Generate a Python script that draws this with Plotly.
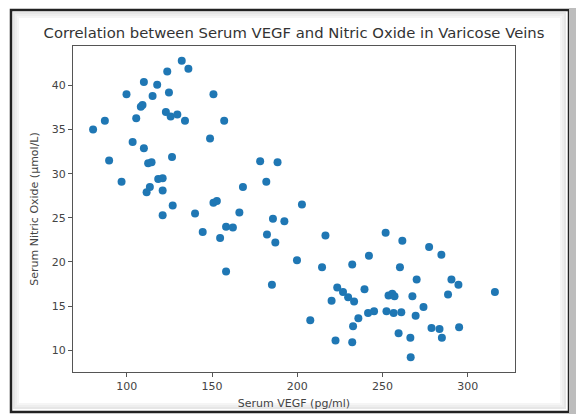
import plotly.graph_objects as go

vegf = [132.2, 136.1, 123.7, 110.0, 117.8, 99.8, 124.7, 150.8, 115.1, 109.2,
        108.2, 105.5, 122.9, 125.7, 129.6, 134.1, 87.1, 80.2, 148.8, 103.4,
        110.0, 89.6, 126.5, 112.5, 114.5, 96.9, 118.4, 121.0, 113.5, 111.6,
        121.0, 126.9, 121.0, 140.0, 150.8, 152.8, 157.1, 178.2, 188.4, 168.1,
        181.8, 202.7, 166.0, 185.7, 192.4, 144.5, 154.7, 158.2, 162.2, 158.2,
        182.2, 187.1, 216.5, 199.8, 214.5, 232.2, 242.0, 251.8, 261.6, 277.3,
        284.5, 260.2, 270.0, 290.4, 294.5, 288.4, 315.9, 185.1, 223.4, 226.8,
        229.8, 233.3, 220.1, 239.4, 253.5, 255.7, 257.0, 267.5, 274.0, 207.6,
        235.8, 232.7, 241.5, 245.0, 252.3, 256.5, 261.0, 269.4, 259.4, 266.3,
        284.8, 222.4, 232.2, 278.7, 283.4, 294.9, 266.5]
nitric_oxide = [42.8, 41.9, 41.6, 40.4, 40.1, 39.0, 39.2, 39.0, 38.8, 37.8,
                37.6, 36.3, 37.0, 36.5, 36.7, 36.0, 36.0, 35.0, 34.0, 33.6,
                32.9, 31.5, 31.9, 31.2, 31.3, 29.1, 29.4, 29.5, 28.5, 27.9,
                28.1, 26.4, 25.3, 25.5, 26.7, 26.9, 36.0, 31.4, 31.3, 28.5,
                29.1, 26.5, 25.6, 24.9, 24.6, 23.4, 22.7, 24.0, 23.9, 18.9,
                23.1, 22.2, 23.0, 20.2, 19.4, 19.7, 20.7, 23.3, 22.4, 21.7,
                20.8, 19.4, 18.0, 18.0, 17.4, 16.3, 16.6, 17.4, 17.1, 16.6,
                16.0, 15.5, 15.6, 16.9, 16.2, 16.4, 16.1, 16.1, 14.9, 13.4,
                13.6, 12.7, 14.2, 14.4, 14.4, 14.2, 14.3, 13.9, 11.9, 11.4,
                11.4, 11.1, 10.9, 12.5, 12.4, 12.6, 9.2]

x_ticks = [100, 150, 200, 250, 300]
y_ticks = [10, 15, 20, 25, 30, 35, 40]

title_text = "Correlation between Serum VEGF and Nitric Oxide in Varicose Veins"
x_label = "Serum VEGF (pg/ml)"
y_label = "Serum Nitric Oxide (μmol/L)"

W, H = 576, 414
L, R, T, B = 73, 61, 46, 42
PW, PH = W - L - R, H - T - B


def px_x(p):
    return (p - L) / PW


def px_y(p):
    return (H - B - p) / PH


def pad(vals, frac=0.05):
    lo, hi = min(vals), max(vals)
    d = (hi - lo) * frac
    return [lo - d, hi + d]


fig = go.Figure()
fig.add_trace(go.Scatter(
    x=vegf, y=nitric_oxide, mode="markers",
    marker=dict(color="#1f77b4", size=8, line=dict(width=0)),
    showlegend=False,
))

axis_common = dict(
    showgrid=False, zeroline=False, showline=True, mirror=True, automargin=False,
    linecolor="#555555", linewidth=1, ticks="outside", ticklen=4,
    tickcolor="#555555", tickfont=dict(family="DejaVu Sans", size=11, color="#444444"),
)

fig.update_layout(
    width=W, height=H,
    margin=dict(l=L, r=R, t=T, b=B, autoexpand=False),
    paper_bgcolor="white", plot_bgcolor="white",
    title=dict(text=title_text, x=0.5, xref="paper", automargin=False,
               y=1 - 33 / H, yref="container", xanchor="center", yanchor="middle",
               font=dict(family="DejaVu Sans", size=14.8, color="#333333")),
    xaxis=dict(range=pad(vegf), tickvals=x_ticks,
               title=dict(text=x_label, standoff=7,
                          font=dict(family="DejaVu Sans", size=11, color="#444444")),
               **axis_common),
    yaxis=dict(range=pad(nitric_oxide), tickvals=y_ticks,
               title=dict(text=y_label, standoff=10,
                          font=dict(family="DejaVu Sans", size=11, color="#444444")),
               **axis_common),
)

# Figure frame (dark border with soft gray shadow)
shapes = []
for i, col in enumerate(["#e6e6e6", "#eeeeee", "#f5f5f5"]):
    off = 3 + 2 * i
    shapes.append(dict(type="rect", xref="paper", yref="paper",
                       x0=px_x(11 + off), x1=px_x(568 - off),
                       y0=px_y(411 - off), y1=px_y(10 + off),
                       line=dict(color=col, width=2), fillcolor="rgba(0,0,0,0)",
                       layer="below"))
shapes.append(dict(type="rect", xref="paper", yref="paper",
                   x0=px_x(11), x1=px_x(569), y0=px_y(412), y1=px_y(10),
                   line=dict(color="#222222", width=2.5), fillcolor="rgba(0,0,0,0)"))
shapes.append(dict(type="rect", xref="paper", yref="paper",
                   x0=px_x(569), x1=px_x(576), y0=px_y(414), y1=px_y(8),
                   line=dict(width=0), fillcolor="#bdbdbd"))
fig.update_layout(shapes=shapes)

fig.write_html("out.html", config={"displayModeBar": False},
               post_script="document.body.style.margin='0';document.body.style.overflow='hidden';")
